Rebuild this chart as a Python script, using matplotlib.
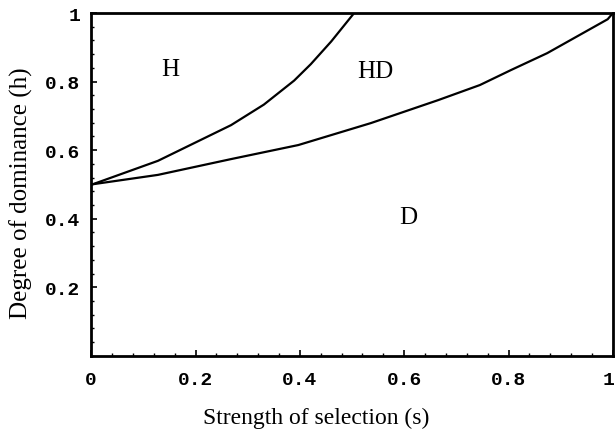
import numpy as np
import matplotlib
matplotlib.use('Agg')
import matplotlib.pyplot as plt
import matplotlib.transforms as mtransforms
from matplotlib.ticker import MultipleLocator

# boundary H / HD
s_upper = [0.0, 0.128, 0.268, 0.331, 0.389, 0.421, 0.460, 0.504]
h_upper = [0.499, 0.569, 0.673, 0.733, 0.803, 0.851, 0.917, 1.0]

# boundary HD / D
s_lower = [0.0, 0.128, 0.268, 0.397, 0.536, 0.665, 0.745, 0.805, 0.874, 0.990, 1.0]
h_lower = [0.5, 0.528, 0.574, 0.615, 0.679, 0.746, 0.790, 0.834, 0.883, 0.982, 1.0]

regions = ['H', 'HD', 'D']
region_s = [0.151, 0.544, 0.607]
region_h = [0.837, 0.831, 0.405]

xticks = [0, 0.2, 0.4, 0.6, 0.8, 1.0]
xticklabels = ['0', '0.2', '0.4', '0.6', '0.8', '1']
yticks = [0.2, 0.4, 0.6, 0.8, 1.0]
yticklabels = ['0.2', '0.4', '0.6', '0.8', '1']

fig = plt.figure(figsize=(6.16, 4.39), dpi=100)
ax = fig.add_axes([0.148, 0.187, 0.847, 0.781])

ax.plot(s_upper, h_upper, color='black', lw=1.6)
ax.plot(s_lower, h_lower, color='black', lw=1.6)

for lab, x, y in zip(regions, region_s, region_h):
    ax.text(x, y, lab, family='Liberation Serif', fontsize=18,
            ha='center', va='center')

ax.set_xlim(0, 1)
ax.set_ylim(0, 1)
ax.set_xticks(xticks)
ax.set_xticklabels(xticklabels)
ax.set_yticks(yticks)
ax.set_yticklabels(yticklabels)
ax.yaxis.set_minor_locator(MultipleLocator(0.04))
ax.xaxis.set_minor_locator(MultipleLocator(0.04))
ax.tick_params(which='both', direction='in', top=False, right=False)
ax.tick_params(which='major', length=4, width=1.2, pad=8)
ax.tick_params(axis='x', which='major', pad=11)
ax.tick_params(which='minor', length=2.5, width=1.0)
for t in ax.get_xticklabels() + ax.get_yticklabels():
    t.set_family('Liberation Mono')
    t.set_fontweight('bold')
    t.set_fontsize(14)

# last x label sits against the figure edge, nudge it in a little
last = ax.get_xticklabels()[-1]
last.set_transform(last.get_transform() +
                   mtransforms.ScaledTranslation(-4 / 100, 0, fig.dpi_scale_trans))

for sp in ax.spines.values():
    sp.set_linewidth(2.0)

ax.set_xlabel('Strength of selection (s)', family='Liberation Serif', fontsize=17)
ax.set_ylabel('Degree of dominance (h)', family='Liberation Serif', fontsize=18)
ax.xaxis.set_label_coords(0.431, -0.148)
ax.yaxis.set_label_coords(-0.112, 0.478)

fig.savefig('out.png', dpi=100)
